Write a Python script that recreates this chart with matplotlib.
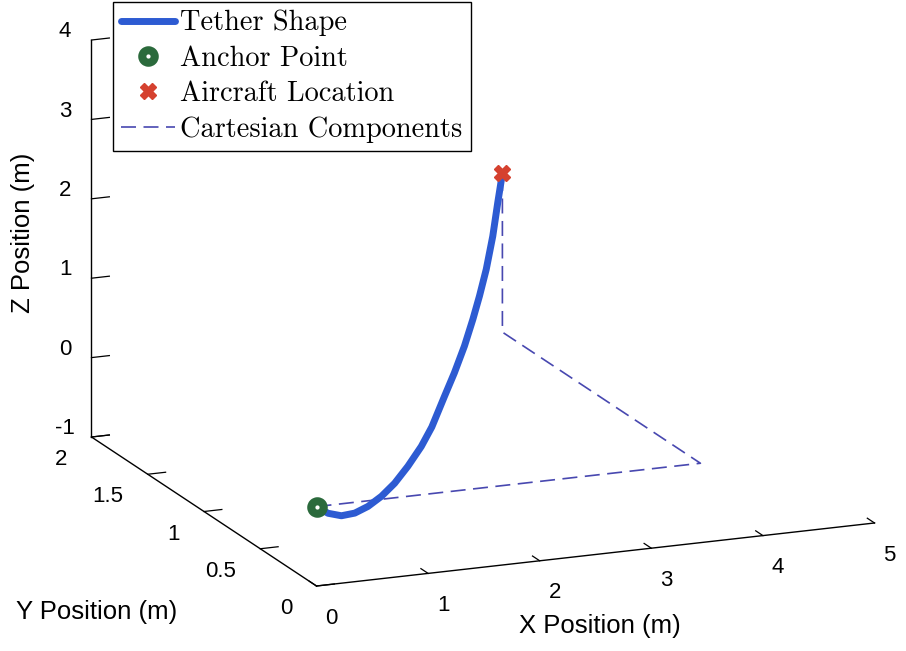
import matplotlib
matplotlib.use("Agg")
import matplotlib.pyplot as plt
from matplotlib.font_manager import FontProperties
from mpl_toolkits.mplot3d import proj3d
import numpy as np

plt.rcParams['font.family'] = 'Liberation Sans'
plt.rcParams['axes.unicode_minus'] = False

# tether shape (m)
tether_x = [0, 0.213, 0.461, 0.709, 0.953, 1.201, 1.445, 1.692, 1.940, 2.133, 2.370,
            2.552, 2.738, 2.893, 3.017, 3.141, 3.261, 3.354, 3.44]
tether_y = [0, 0.109, 0.236, 0.363, 0.488, 0.614, 0.739, 0.866, 0.993, 1.091, 1.213,
            1.306, 1.401, 1.480, 1.544, 1.607, 1.668, 1.716, 1.76]
tether_z = [0, -0.22, -0.41, -0.535, -0.607, -0.637, -0.629, -0.573, -0.482, -0.36, -0.124,
            0.054, 0.273, 0.510, 0.725, 0.982, 1.323, 1.686, 2.0]

anchor = [0.0, 0.0, 0.0]
aircraft = [3.44, 1.76, 2.0]

# dashed path anchor -> x -> y -> z
comp_x = [0.0, 3.44, 3.44, 3.44]
comp_y = [0.0, 0.0, 1.76, 1.76]
comp_z = [0.0, 0.0, 0.0, 2.0]

x_ticks = [0, 1, 2, 3, 4, 5]
y_ticks = [0, 0.5, 1, 1.5, 2]
y_labels = ['0', '0.5', '1', '1.5', '2']
z_ticks = [-1, 0, 1, 2, 3, 4]

W, H = 906, 651
fig = plt.figure(figsize=(W / 100, H / 100), dpi=100)
ax = fig.add_axes([0.05, 0.05, 0.9, 0.9], projection='3d', proj_type='ortho',
                  computed_zorder=False)
ax.view_init(elev=15.87, azim=-112.44)
ax.set_box_aspect((603.7, 589.5, 412.7))
ax.set_xlim(0, 5)
ax.set_ylim(0, 2)
ax.set_zlim(-1, 4)
ax.set_xticks(x_ticks)
ax.set_yticks(y_ticks)
ax.set_yticklabels(y_labels)
ax.set_zticks(z_ticks)
ax.grid(False)
ax.set_facecolor('none')
for axis in (ax.xaxis, ax.yaxis, ax.zaxis):
    axis.set_pane_color((1, 1, 1, 0))
    axis.pane.set_edgecolor((1, 1, 1, 0))
    axis.line.set_color('black')
    axis.line.set_linewidth(1.0)
    axis._axinfo['tick']['inward_factor'] = 0.0
    axis._axinfo['tick']['outward_factor'] = 0.4
    axis._axinfo['tick']['linewidth'] = {True: 0.9, False: 0.5}
    axis._axinfo['tick']['color'] = 'black'
ax.tick_params(labelsize=16, colors='black')
ax.tick_params(axis='x', pad=5.5)
ax.tick_params(axis='y', pad=7)
for t in ax.xaxis.get_major_ticks():
    t.label1.set_ha('left')
for t in ax.yaxis.get_major_ticks():
    t.label1.set_ha('right')
    t.label1.set_va('center_baseline')
for t in ax.zaxis.get_major_ticks():
    t.label1.set_va('baseline')

comp_line, = ax.plot(comp_x, comp_y, comp_z, color='#4848b0', lw=1.2,
                     linestyle=(0, (9, 4.5)))
tether_line, = ax.plot(tether_x, tether_y, tether_z, color='#2d5bd2', lw=5,
                       solid_capstyle='round', solid_joinstyle='round')
anchor_pt, = ax.plot([anchor[0]], [anchor[1]], [anchor[2]], 'o', ms=9, mew=5.8,
                     mec='#2b6a3c', mfc='white', linestyle='none')
aircraft_pt, = ax.plot([aircraft[0]], [aircraft[1]], [aircraft[2]], 'X', ms=12,
                       color='#d5412f', mec='#d5412f', linestyle='none')


def to_pixels(pts):
    xs, ys, zs = np.array(pts, dtype=float).T
    px, py, _ = proj3d.proj_transform(xs, ys, zs, ax.get_proj())
    return ax.transData.transform(np.column_stack([px, py]))


# place the box corners where they sit in the reference
corners = [(0, 0, -1), (5, 0, -1), (0, 2, -1), (0, 2, 4)]
target = np.array([(317, H - 586), (875, H - 523), (92, H - 437), (90, H - 40)], float)
for _ in range(2):
    fig.canvas.draw()
    p = to_pixels(corners)
    span_p = (np.linalg.norm(p[1] - p[0]) + np.linalg.norm(p[2] - p[0])
              + np.linalg.norm(p[3] - p[2]))
    span_t = (np.linalg.norm(target[1] - target[0]) + np.linalg.norm(target[2] - target[0])
              + np.linalg.norm(target[3] - target[2]))
    s = span_t / span_p
    act = ax.get_position(original=False)
    c = np.array([(act.x0 + act.x1) / 2 * W, (act.y0 + act.y1) / 2 * H])
    c_new = (target - s * (p - c)).mean(axis=0)
    orig = ax.get_position(original=True)
    w, h = orig.width * s, orig.height * s
    ax.set_position([c_new[0] / W - w / 2, c_new[1] / H - h / 2, w, h])

fig.text(600 / W, 1 - 626 / H, 'X Position (m)', fontsize=18.5, ha='center', va='center')
fig.text(97 / W, 1 - 612 / H, 'Y Position (m)', fontsize=18.5, ha='center', va='center')
fig.text(23 / W, 1 - 233 / H, 'Z Position (m)', fontsize=18.5, ha='center', va='center',
         rotation=90)

leg = fig.legend([tether_line, anchor_pt, aircraft_pt, comp_line],
                 ['Tether Shape', 'Anchor Point', 'Aircraft Location', 'Cartesian Components'],
                 loc='upper left', bbox_to_anchor=(113 / W, 1 - 2 / H),
                 prop=FontProperties(family='cmr10', size=20.4),
                 frameon=True, fancybox=False, edgecolor='black', framealpha=1,
                 borderpad=0.28, labelspacing=0.32, handlelength=1.9, handletextpad=0.2,
                 borderaxespad=0)
leg.get_frame().set_linewidth(1.0)

fig.savefig('out.png', dpi=100, facecolor='white')
